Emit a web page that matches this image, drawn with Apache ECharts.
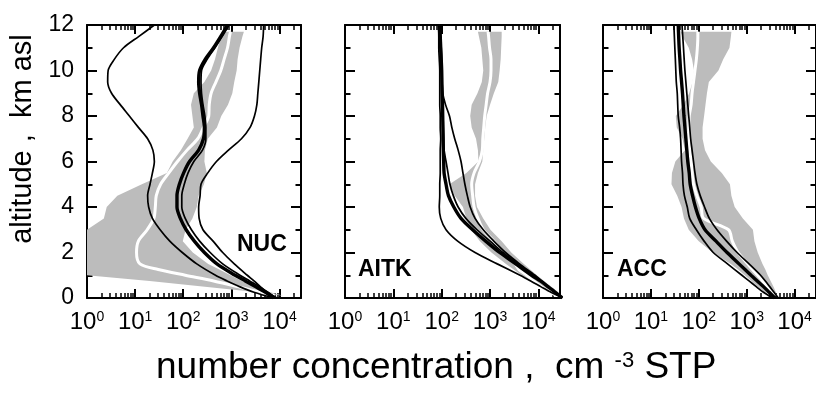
<!DOCTYPE html>
<html>
<head>
<meta charset="utf-8">
<script src="https://cdn.jsdelivr.net/npm/echarts@6.0.0/dist/echarts.min.js"></script>
<style>html,body{margin:0;padding:0;background:#fff}#c{width:816px;height:400px}</style>
</head>
<body>
<div id="c"></div>
<script>
// ---------- data (number concentration, cm^-3 STP) ----------
const PANEL_NAMES = ['NUC', 'AITK', 'ACC'];
const X_MIN = 1, X_MAX = 28000;
const MAJOR_TICKS = [1, 10, 100, 1000, 10000];
const MINOR_TICKS = [2,3,4,5,6,7,8,9,20,30,40,50,60,70,80,90,200,300,400,500,600,700,800,900,2000,3000,4000,5000,6000,7000,8000,9000,20000];
const Y_TICKS = [0, 2, 4, 6, 8, 10, 12];

// altitudes (km asl) for model lines
const ALT = [0,0.25,0.5,0.75,1,1.5,2,2.5,3,3.5,4,4.5,5,5.5,6,6.5,7,7.5,8,8.5,9,9.5,10,10.5,11,11.5,12];
// altitudes (km asl) for observations (median + range)
const ALT_OBS = [0.1,0.25,0.5,0.75,1,1.25,1.5,2,2.5,3,3.5,4,4.5,5,5.5,6,6.5,7,7.5,8,8.5,9,9.5,10,10.5,11,11.5,11.7];

// NUC
const NUC_thin1 = [7590,2950,1480,813,468,191,95.5,52.5,33.1,22.9,19.1,18.2,20.4,22.9,25.1,23.4,18.2,11.7,7.59,4.9,3.24,2.69,2.75,3.72,5.75,12,25.1];
const NUC_thick = [7590,5130,3160,1950,1200,501,275,170,115,87.1,74.1,74.1,83.2,102,135,209,263,275,257,240,219,209,219,288,427,603,832];
const NUC_thin2 = [8320,5750,3800,2400,1510,661,363,219,148,110,93.3,93.3,105,126,166,251,295,295,282,257,240,234,240,316,457,646,891];
const NUC_thin3 = [8910,5500,3980,2950,2140,1150,661,417,257,214,209,224,234,324,490,871,1620,2450,3020,3390,3550,3720,3890,4070,4270,4570,4680];
const NUC_obsMedian = [7940,3980,1350,427,110,30.2,12.6,10.7,11.7,17.8,24.5,26.3,27.5,33.9,50.1,75.9,120,200,263,339,347,380,479,603,708,832,912,955];
const NUC_obsLow  = [12000,3550,282,20,1,1,1,1,1,1,2.24,2.57,4.27,13.8,45.7,60.3,89.1,123,166,155,145,166,275,380,457,525,603,646];
const NUC_obsHigh = [12000,6460,2950,1660,955,562,331,158,97.7,112,155,191,209,269,309,275,282,324,501,617,851,1047,1148,1288,1349,1479,1698,1820];

// AITK
const AITK_thin1 = [31600,18200,11200,6920,4170,1410,490,214,123,95.5,89.1,91.2,91.2,93.3,93.3,93.3,95.5,93.3,93.3,91.2,91.2,91.2,91.2,89.1,87.1,87.1,85.1];
const AITK_thick = [31600,22400,15800,11000,7240,3390,1580,813,437,251,178,138,123,112,110,108,107,106,105,104,102,101,100,97.7,95.5,93.3,91.2];
const AITK_thin2 = [31600,22400,16000,11300,7800,3700,1850,1000,537,316,219,174,148,135,123,112,110,108,107,105,104,102,101,100,97.7,95.5,93.3];
const AITK_thin3 = [32400,22400,16200,11700,8510,4070,2090,1200,724,490,389,339,302,275,251,219,186,162,145,120,105,102,100,97.7,95.5,93.3,91.2];
const AITK_obsMedian = [24000,17800,11500,7940,5750,3980,3310,1820,1200,724,562,468,437,417,468,603,692,708,741,776,832,891,1000,1047,1047,977,933,912];
const AITK_obsLow  = [28200,15800,10700,6920,4470,3090,2140,1070,617,407,324,275,186,145,324,575,562,513,417,389,417,550,676,724,692,661,589,562];
const AITK_obsHigh = [28200,25700,18600,13200,9330,6760,5010,2750,1740,1020,724,537,490,490,562,692,724,759,794,851,1000,1200,1480,1580,1660,1700,1740,1740];

// ACC
const ACC_thin1 = [3470,2240,1580,1120,794,398,200,129,89.1,64.6,57.5,50.1,46.8,45.7,43.7,42.7,41.7,39.8,37.2,36.3,35.5,33.9,33.1,32.4,31.6,30.9,30.2];
const ACC_thick = [3890,2950,2240,1660,1230,692,389,229,135,102,85.1,74.1,66.1,63.1,58.9,56.2,53.7,51.3,49,47.3,45.7,43.7,41.7,40.3,38.9,38,37.2];
const ACC_thin3 = [4570,3720,3020,2450,1950,1120,631,380,240,166,132,107,91.2,83.2,77.6,72.4,67.6,64.6,61.7,58.9,56.2,53.7,51.3,49.5,47.9,46.2,44.7];
const ACC_obsMedian = [3980,3470,2750,2140,1700,1320,1050,661,501,417,126,112,91.2,77.6,72.4,69.2,64.6,61.7,61.7,63.1,69.2,72.4,77.6,83.2,89.1,93.3,95.5,95.5];
const ACC_obsLow  = [4170,2400,1700,1260,912,661,468,195,100,61.7,49,43.7,35.5,26.9,27.5,32.4,51.3,45.7,34.7,33.1,47.9,63.1,74.1,79.4,72.4,61.7,45.7,41.7];
const ACC_obsHigh = [4170,4070,3630,3160,2750,2450,2140,1700,1450,1350,832,562,479,447,302,178,135,120,120,129,138,148,162,257,324,437,468,479];

// ---------- build ----------
const REG = "'Liberation Sans', Arial, sans-serif";
const TICK_COLOR = '#000';

const panels = [
  { name: PANEL_NAMES[0], thin: [NUC_thin1, NUC_thin2, NUC_thin3], thick: [NUC_thick], med: NUC_obsMedian, lo: NUC_obsLow, hi: NUC_obsHigh,
    grid: { left: 87, top: 25, width: 214, height: 273 }, label: [237, 245] },
  { name: PANEL_NAMES[1], thin: [AITK_thin1, AITK_thin2, AITK_thin3], thick: [AITK_thick], med: AITK_obsMedian, lo: AITK_obsLow, hi: AITK_obsHigh,
    grid: { left: 345, top: 25, width: 215, height: 273 }, label: [358, 270] },
  { name: PANEL_NAMES[2], thin: [ACC_thin1, ACC_thin3], thick: [ACC_thick], med: ACC_obsMedian, lo: ACC_obsLow, hi: ACC_obsHigh,
    grid: { left: 603, top: 25, width: 216, height: 273 }, label: [617, 270] }
];

const LINE = { color: '#000', width: 2 };
const xAxes = [], yAxes = [], series = [], grids = [], graphics = [];

panels.forEach((p, i) => {
  grids.push(Object.assign({}, p.grid));
  const xb = xAxes.length, yb = yAxes.length;
  const mk = (position, ticks, len, w, withLine, withLabel) => {
    const ax = {
      type: 'log', logBase: 10, min: X_MIN, max: X_MAX, gridIndex: i, position: position,
      splitLine: { show: false },
      axisLine: { show: withLine, onZero: false, lineStyle: LINE },
      axisTick: { show: true, inside: true, length: len, lineStyle: { color: TICK_COLOR, width: w }, customValues: ticks },
      axisLabel: { show: false }
    };
    if (withLabel) ax.axisLabel = {
      show: true, customValues: MAJOR_TICKS, margin: 12, color: '#000',
      formatter: v => '{b|10}{s|' + Math.round(Math.log10(v)) + '}',
      rich: { b: { fontSize: 24, fontFamily: REG, color: '#000' }, s: { fontSize: 14, fontFamily: REG, color: '#000', verticalAlign: 'top' } }
    };
    return ax;
  };
  xAxes.push(mk('bottom', MAJOR_TICKS, 9, 2, true, true));
  xAxes.push(mk('bottom', MINOR_TICKS, 5, 1.5, false, false));
  xAxes.push(mk('top', MAJOR_TICKS, 9, 2, true, false));
  xAxes.push(mk('top', MINOR_TICKS, 5, 1.5, false, false));

  const ybase = { type: 'value', min: 0, max: 12, interval: 2, gridIndex: i, splitLine: { show: false },
    axisLine: { show: true, onZero: false, lineStyle: LINE },
    axisTick: { show: true, inside: true, length: 10, lineStyle: LINE },
    minorTick: { show: true, splitNumber: 2, length: 5.5, lineStyle: LINE } };
  yAxes.push(Object.assign({}, ybase, { position: 'left',
    axisLabel: i === 0 ? { show: true, margin: 13, fontSize: 23, fontFamily: REG, color: '#000', customValues: Y_TICKS } : { show: false } }));
  yAxes.push(Object.assign({}, ybase, { position: 'right', axisLabel: { show: false } }));

  // observed range (gray band)
  const lo = p.lo, hi = p.hi;
  series.push({
    type: 'custom', xAxisIndex: xb, yAxisIndex: yb, clip: true, silent: true, z: 1,
    data: ALT_OBS.map((a, k) => [lo[k], hi[k], a]),
    encode: { x: [0, 1], y: 2 },
    renderItem: (params, api) => {
      if (params.dataIndex !== 0) return;
      const pts = [];
      for (let k = 0; k < ALT_OBS.length; k++) pts.push(api.coord([lo[k], ALT_OBS[k]]));
      for (let k = ALT_OBS.length - 1; k >= 0; k--) pts.push(api.coord([hi[k], ALT_OBS[k]]));
      return { type: 'polygon', shape: { points: pts }, style: { fill: '#bcbcbc', stroke: null } };
    }
  });
  // observed median (white)
  series.push({ type: 'line', xAxisIndex: xb, yAxisIndex: yb, z: 2, symbol: 'none', smooth: 0.3,
    data: ALT_OBS.map((a, k) => [p.med[k], a]), lineStyle: { color: '#fff', width: 3 } });
  // model lines
  p.thin.forEach(arr => series.push({ type: 'line', xAxisIndex: xb, yAxisIndex: yb, z: 3, symbol: 'none', smooth: 0.3,
    data: ALT.map((a, k) => [arr[k], a]), lineStyle: { color: '#000', width: 1.7 } }));
  p.thick.forEach(arr => series.push({ type: 'line', xAxisIndex: xb, yAxisIndex: yb, z: 4, symbol: 'none', smooth: 0.3,
    data: ALT.map((a, k) => [arr[k], a]), lineStyle: { color: '#000', width: 3.4 } }));

  graphics.push({ type: 'text', x: p.label[0], y: p.label[1], z: 10,
    style: { text: p.name, fontSize: 23, fontWeight: 'bold', fontFamily: REG, fill: '#000', align: 'left', verticalAlign: 'middle' } });
});

graphics.push({ type: 'text', x: 23, y: 139, rotation: Math.PI / 2,
  style: { text: 'altitude ,  km asl', fontSize: 29, fontFamily: REG, fill: '#000', align: 'center', verticalAlign: 'middle' } });
graphics.push({ type: 'text', x: 156, y: 368,
  style: { text: '{a|number concentration ,  cm }{s|-3}{a| STP}', align: 'left', verticalAlign: 'middle',
    rich: { a: { fontSize: 37, fontFamily: REG, color: '#000' }, s: { fontSize: 22, fontFamily: REG, color: '#000', verticalAlign: 'top' } } } });

const chart = echarts.init(document.getElementById('c'), null, { renderer: 'canvas' });
chart.setOption({
  animation: false,
  backgroundColor: '#fff',
  grid: grids,
  xAxis: xAxes,
  yAxis: yAxes,
  series: series,
  graphic: graphics
});
</script>
</body>
</html>
